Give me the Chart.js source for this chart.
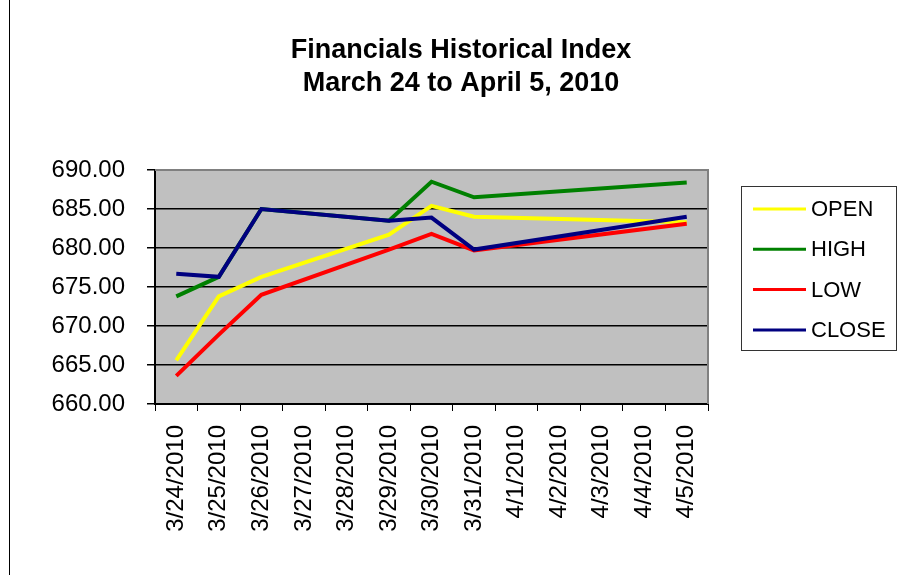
<!DOCTYPE html>
<html>
<head>
<meta charset="utf-8">
<script src="https://cdn.jsdelivr.net/npm/chart.js@4.4.1/dist/chart.umd.min.js"></script>
<style>
  body { margin: 0; background: #fff; }
  #wrap { position: relative; width: 909px; height: 575px; }
  #edge { position: absolute; left: 9px; top: 0; width: 0; height: 575px; border-left: 1px solid #000; }
</style>
</head>
<body>
<div id="wrap">
  <canvas id="chart" width="909" height="575"></canvas>
  <div id="edge"></div>
</div>
<script>
const dates = ['3/24/2010', '3/25/2010', '3/26/2010', '3/27/2010', '3/28/2010', '3/29/2010', '3/30/2010',
  '3/31/2010', '4/1/2010', '4/2/2010', '4/3/2010', '4/4/2010', '4/5/2010'];
// null = no trading that day, line spans the gap
const openVals  = [665.6, 673.8, 676.3, null, null, 681.7, 685.4, 684.0, null, null, null, null, 683.3];
const highVals  = [673.8, 676.3, 685.0, null, null, 683.5, 688.5, 686.5, null, null, null, null, 688.4];
const lowVals   = [663.6, 668.9, 674.0, null, null, 679.8, 681.8, 679.7, null, null, null, null, 683.1];
const closeVals = [676.7, 676.3, 685.0, null, null, 683.5, 683.9, 679.8, null, null, null, null, 684.0];
const yTicks = [660, 665, 670, 675, 680, 685, 690];
const titleLines = ['Financials Historical Index', 'March 24 to April 5, 2010'];

const FONT = "'Liberation Sans', Arial, sans-serif";

const decor = {
  id: 'decor',
  beforeDraw(chart) {
    const a = chart.chartArea, ctx = chart.ctx;
    ctx.save();
    ctx.fillStyle = '#c0c0c0';
    ctx.fillRect(a.left, a.top, a.right - a.left, a.bottom - a.top);
    ctx.restore();
  },
  afterDraw(chart) {
    const a = chart.chartArea, ctx = chart.ctx;
    ctx.save();
    ctx.strokeStyle = '#808080';
    ctx.lineWidth = 2;
    ctx.beginPath();
    ctx.moveTo(a.left, a.top);
    ctx.lineTo(a.right, a.top);
    ctx.lineTo(a.right, a.bottom);
    ctx.stroke();

    // title
    ctx.fillStyle = '#000';
    ctx.font = 'bold 27px ' + FONT;
    ctx.textAlign = 'center';
    ctx.textBaseline = 'middle';
    titleLines.forEach((t, i) => ctx.fillText(t, 461, 51 + i * 33));

    // legend box
    const bx = 741, by = 186, bw = 155, bh = 164;
    ctx.fillStyle = '#fff';
    ctx.fillRect(bx, by, bw, bh);
    ctx.strokeStyle = '#333';
    ctx.lineWidth = 1;
    ctx.strokeRect(bx + 0.5, by + 0.5, bw, bh);
    ctx.font = '22px ' + FONT;
    ctx.textAlign = 'left';
    chart.data.datasets.forEach((ds, i) => {
      const y = by + 23 + i * 40.3;
      ctx.strokeStyle = ds.borderColor;
      ctx.lineWidth = 3;
      ctx.beginPath();
      ctx.moveTo(bx + 12, y);
      ctx.lineTo(bx + 65, y);
      ctx.stroke();
      ctx.fillStyle = '#000';
      ctx.fillText(ds.label, bx + 70, y + 1);
    });
    ctx.restore();
  }
};

new Chart(document.getElementById('chart'), {
  type: 'line',
  data: {
    labels: dates,
    datasets: [
      { label: 'OPEN', data: openVals, borderColor: '#ffff00', order: 3 },
      { label: 'HIGH', data: highVals, borderColor: '#008000', order: 2 },
      { label: 'LOW', data: lowVals, borderColor: '#ff0000', order: 1 },
      { label: 'CLOSE', data: closeVals, borderColor: '#000080', order: 0 }
    ]
  },
  options: {
    responsive: false,
    animation: false,
    spanGaps: true,
    elements: {
      line: { borderWidth: 4, tension: 0, borderJoinStyle: 'miter' },
      point: { radius: 0, hoverRadius: 0 }
    },
    layout: { padding: { left: 20, right: 201, top: 170, bottom: 0 } },
    plugins: {
      legend: { display: false },
      tooltip: { enabled: false },
      title: { display: false }
    },
    scales: {
      x: {
        offset: true,
        afterFit(scale) { scale.height = 171; },
        grid: { offset: true, drawOnChartArea: false, color: '#000', tickLength: 7, tickColor: '#000' },
        border: { color: '#000', width: 2 },
        ticks: {
          color: '#000', font: { family: FONT, size: 24 },
          maxRotation: 90, minRotation: 90, autoSkip: false, padding: 14
        }
      },
      y: {
        min: 660, max: 690,
        afterBuildTicks(scale) { scale.ticks = yTicks.map(v => ({ value: v })); },
        afterFit(scale) { scale.width = 135; },
        grid: { color: '#000', lineWidth: 1.5, tickLength: 8, tickColor: '#000' },
        border: { color: '#000', width: 2 },
        ticks: {
          color: '#000', font: { family: FONT, size: 24 }, padding: 22,
          callback: v => v.toFixed(2)
        }
      }
    }
  },
  plugins: [decor]
});
</script>
</body>
</html>
